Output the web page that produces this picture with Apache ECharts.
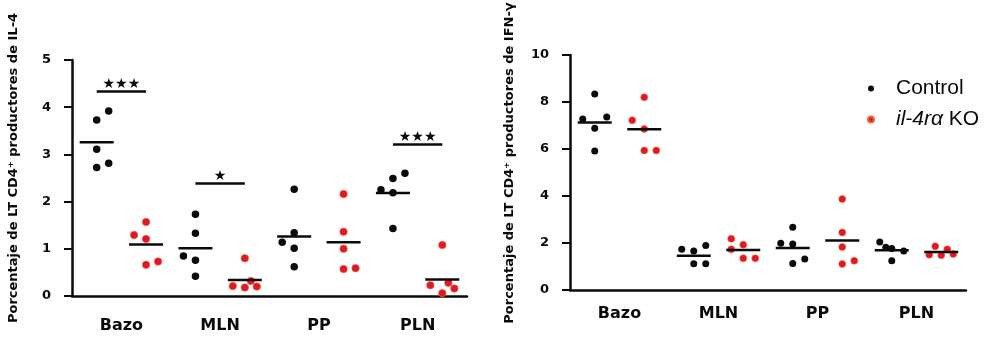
<!DOCTYPE html>
<html>
<head>
<meta charset="utf-8">
<script src="https://cdn.jsdelivr.net/npm/echarts@6/dist/echarts.min.js"></script>
<style>html,body{margin:0;padding:0;background:#fff}#c{width:991px;height:339px}</style>
</head>
<body>
<div id="c"></div>
<script>
// ---- data ----
const tissues = ['Bazo', 'MLN', 'PP', 'PLN'];
const groupNames = ['Control', 'il-4rα KO'];

// IL-4 (left panel), five animals per tissue
const il4Control = [[3.73, 3.92, 3.11, 2.72, 2.81], [1.73, 1.33, 0.85, 0.76, 0.42], [2.26, 1.34, 1.14, 1.01, 0.62], [2.49, 2.60, 2.25, 2.19, 1.43]];
const il4KO = [[1.57, 1.29, 1.21, 0.66, 0.73], [0.80, 0.21, 0.18, 0.32, 0.20], [2.16, 1.36, 1.00, 0.57, 0.59], [1.08, 0.23, 0.28, 0.16, 0.06]];
const il4ControlMean = [3.26, 1.01, 1.26, 2.18];
const il4KOMean = [1.09, 0.34, 1.14, 0.35];
const il4SigTissue = [0, 1, 3];
const il4SigLevel = [4.33, 2.39, 3.22];
const il4SigMark = ['★★★', '★', '★★★'];

// IFN-γ (right panel)
const ifnControl = [[8.34, 7.28, 7.36, 6.88, 5.91], [1.73, 1.66, 1.89, 1.12, 1.12], [2.67, 1.99, 1.96, 1.13, 1.32], [2.04, 1.77, 1.25, 1.66, 1.82]];
const ifnKO = [[8.20, 7.22, 6.85, 5.94, 5.94], [2.18, 1.73, 1.93, 1.35, 1.35], [3.87, 2.45, 1.83, 1.11, 1.25], [1.50, 1.86, 1.48, 1.73, 1.53]];
const ifnControlMean = [7.13, 1.46, 1.79, 1.69];
const ifnKOMean = [6.84, 1.70, 2.11, 1.62];

const il4Ticks = {min: 0, max: 5, interval: 1};
const ifnTicks = {min: 0, max: 10, interval: 2};

// ---- presentation (horizontal jitter in pixels, per point) ----
const jitterIL4 = [
  [[0, 12, 0, 0, 12], [0, -12, 0, 0, 12]],
  [[0, 0, -12, 0, 0], [0, -12, 0, 6, 12]],
  [[0, 0, -12, 0, 0], [0, 0, 0, 0, 12]],
  [[0, 12, -12, 0, 0], [0, -12, 6, 12, 0]]
];
const jitterIFN = [
  [[0, -12, 12, 0, 0], [0, -12, 0, 0, 12]],
  [[-12, 0, 12, 0, 12], [-12, -12, 0, 0, 12]],
  [[0, -12, 0, 0, 12], [0, 0, 0, 0, 12]],
  [[-12, 0, 0, 12, -6], [-12, -6, 0, 6, 12]]
];

const BLACK = '#0a0a0a';
const RED = '#e0162a';
const slots = [];
tissues.forEach(t => groupNames.forEach(g => slots.push(t + ' ' + g)));
const lblFont = '"DejaVu Sans", sans-serif';

function pointSeries(panel, gi, values, jitter, size) {
  const data = [];
  values.forEach((arr, t) => arr.forEach((v, i) => {
    data.push({value: [t * 2 + gi, v], symbolOffset: [jitter[t][gi][i], 0]});
  }));
  return {
    type: 'scatter', name: groupNames[gi], xAxisIndex: panel * 2, yAxisIndex: panel,
    symbol: 'circle', symbolSize: size, data: data, z: 3,
    itemStyle: gi === 0 ? {color: BLACK, opacity: 1} : {color: RED, opacity: 1, borderColor: '#f06a30', borderWidth: 0.6},
    silent: true
  };
}
function meanSeries(panel, gi, means, extra) {
  const s = {
    type: 'scatter', name: 'mean' + panel + gi, xAxisIndex: panel * 2, yAxisIndex: panel,
    symbol: 'rect', symbolSize: [34, 2.5], z: 4,
    itemStyle: {color: BLACK, opacity: 1}, silent: true,
    data: means.map((m, t) => [t * 2 + gi, m])
  };
  return Object.assign(s, extra || {});
}

const sigMarkLine = {
  silent: true, symbol: ['none', 'none'], animation: false,
  lineStyle: {color: BLACK, width: 2.5, type: 'solid', opacity: 1},
  label: {show: true, position: 'insideMiddleTop', distance: 0, color: BLACK, fontSize: 14, fontFamily: lblFont},
  emphasis: {disabled: true},
  data: il4SigTissue.map((t, k) => [
    {coord: [t * 2, il4SigLevel[k]], label: {formatter: il4SigMark[k]}},
    {coord: [t * 2 + 1, il4SigLevel[k]]}
  ])
};

function slotAxis(grid) {
  return {
    type: 'category', gridIndex: grid, data: slots, position: 'bottom',
    axisLine: {lineStyle: {color: BLACK, width: 2.5}},
    axisTick: {alignWithLabel: true, length: 8, lineStyle: {color: BLACK, width: 2}},
    axisLabel: {show: false}, splitLine: {show: false}
  };
}
function groupAxis(grid, labelMargin) {
  return {
    type: 'category', gridIndex: grid, data: tissues, position: 'bottom',
    axisLine: {show: false}, axisTick: {show: false}, splitLine: {show: false},
    axisLabel: {margin: labelMargin, color: BLACK, fontSize: 16, fontWeight: 'bold', fontFamily: lblFont}
  };
}
function valAxis(grid, ticks) {
  return {
    type: 'value', gridIndex: grid, min: ticks.min, max: ticks.max, interval: ticks.interval,
    axisLine: {show: true, lineStyle: {color: BLACK, width: 2.5}},
    axisTick: {show: true, length: 8, lineStyle: {color: BLACK, width: 2}},
    axisLabel: {margin: 21, color: BLACK, fontSize: 13, fontWeight: 'bold', fontFamily: lblFont},
    splitLine: {show: false}
  };
}

const chart = echarts.init(document.getElementById('c'), null, {renderer: 'canvas'});
chart.setOption({
  animation: false,
  backgroundColor: '#ffffff',
  grid: [
    {left: 72, top: 60, width: 395, height: 236},
    {left: 570, top: 55, width: 396, height: 235}
  ],
  xAxis: [slotAxis(0), groupAxis(0, 22), slotAxis(1), groupAxis(1, 16)],
  yAxis: [valAxis(0, il4Ticks), valAxis(1, ifnTicks)],
  legend: {
    data: groupNames, orient: 'vertical', left: 862, top: 73, itemGap: 10,
    icon: 'circle', itemWidth: 6, itemHeight: 6, selectedMode: false,
    formatter: n => n === 'il-4rα KO' ? '{i|il-4rα} KO' : n,
    textStyle: {
      color: BLACK, fontSize: 21, fontFamily: '"Liberation Sans", Arial, sans-serif', padding: [0, 0, 0, 17],
      rich: {i: {fontStyle: 'italic', fontSize: 21, color: BLACK, fontFamily: '"Liberation Sans", Arial, sans-serif'}}
    }
  },
  graphic: [
    {type: 'text', x: 14, y: 168, rotation: Math.PI / 2, silent: true,
      style: {text: 'Porcentaje de LT CD4⁺ productores de IL-4', font: 'bold 13px "DejaVu Sans"', fill: BLACK, align: 'center', verticalAlign: 'middle', textAlign: 'center', textVerticalAlign: 'middle'}},
    {type: 'text', x: 510, y: 163, rotation: Math.PI / 2, silent: true,
      style: {text: 'Porcentaje de LT CD4⁺ productores de IFN-γ', font: 'bold 13px "DejaVu Sans"', fill: BLACK, align: 'center', verticalAlign: 'middle', textAlign: 'center', textVerticalAlign: 'middle'}}
  ],
  series: [
    pointSeries(0, 0, il4Control, jitterIL4, 7.5),
    pointSeries(0, 1, il4KO, jitterIL4, 7.5),
    meanSeries(0, 0, il4ControlMean, {markLine: sigMarkLine}),
    meanSeries(0, 1, il4KOMean),
    pointSeries(1, 0, ifnControl, jitterIFN, 7),
    pointSeries(1, 1, ifnKO, jitterIFN, 7),
    meanSeries(1, 0, ifnControlMean),
    meanSeries(1, 1, ifnKOMean)
  ]
});
</script>
</body>
</html>
